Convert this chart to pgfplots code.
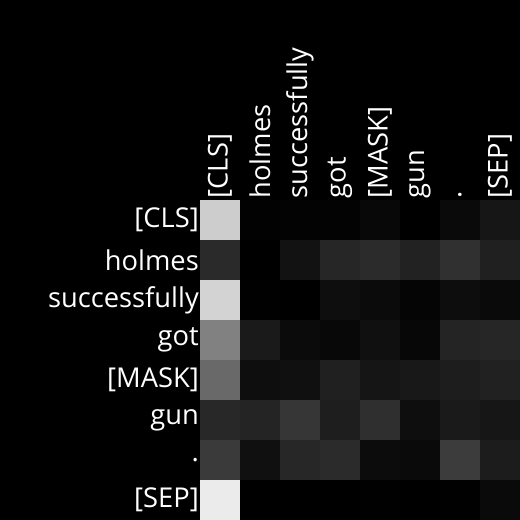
\documentclass[border=0pt]{standalone}
\usepackage{fontspec}
\setmainfont{Open Sans}
\usepackage{pgfplots}
\pgfplotsset{compat=1.18}
\usepackage{pgfplotstable}
\pgfplotstableread{
x y c
0 0 204
1 0 2
2 0 3
3 0 3
4 0 8
5 0 0
6 0 10
7 0 22
0 1 42
1 1 0
2 1 18
3 1 38
4 1 43
5 1 34
6 1 48
7 1 32
0 2 210
1 2 1
2 2 0
3 2 14
4 2 11
5 2 5
6 2 13
7 2 10
0 3 128
1 3 26
2 3 11
3 3 8
4 3 16
5 3 7
6 3 36
7 3 38
0 4 104
1 4 14
2 4 16
3 4 32
4 4 21
5 4 24
6 4 29
7 4 33
0 5 40
1 5 36
2 5 54
3 5 30
4 5 47
5 5 14
6 5 26
7 5 22
0 6 58
1 6 16
2 6 39
3 6 43
4 6 12
5 6 10
6 6 60
7 6 28
0 7 233
1 7 0
2 7 0
3 7 0
4 7 1
5 7 0
6 7 1
7 7 10
}\attn
\begin{document}
\begin{tikzpicture}[x=1pt,y=1pt]
\fill[black] (-200,0) rectangle (320,520);
\useasboundingbox (-200,0) rectangle (320,520);
\begin{axis}[
  at={(0,0)}, anchor=south west,
  scale only axis, width=320pt, height=320pt,
  xmin=-0.5, xmax=7.5, ymin=-0.5, ymax=7.5,
  y dir=reverse,
  colormap={bw}{rgb255=(0,0,0) rgb255=(255,255,255)},
  point meta min=0, point meta max=255,
  axis line style={draw=none},
  tick style={draw=none},
  xtick={0,...,7}, ytick={0,...,7},
  xticklabels={{[CLS]},holmes,successfully,got,{[MASK]},gun,.,{[SEP]}},
  yticklabels={{[CLS]},holmes,successfully,got,{[MASK]},gun,.,{[SEP]}},
  xticklabel pos=upper,
  xticklabel style={rotate=90, anchor=west, inner sep=1.5pt, text=white, font=\fontsize{27.3}{30}\selectfont},
  yticklabel style={anchor=east, inner sep=1pt, text=white, font=\fontsize{27.3}{30}\selectfont},
]
\addplot[matrix plot*, mesh/cols=8, point meta=explicit] table[x=x, y=y, meta=c] {\attn};
\end{axis}
\end{tikzpicture}
\end{document}
